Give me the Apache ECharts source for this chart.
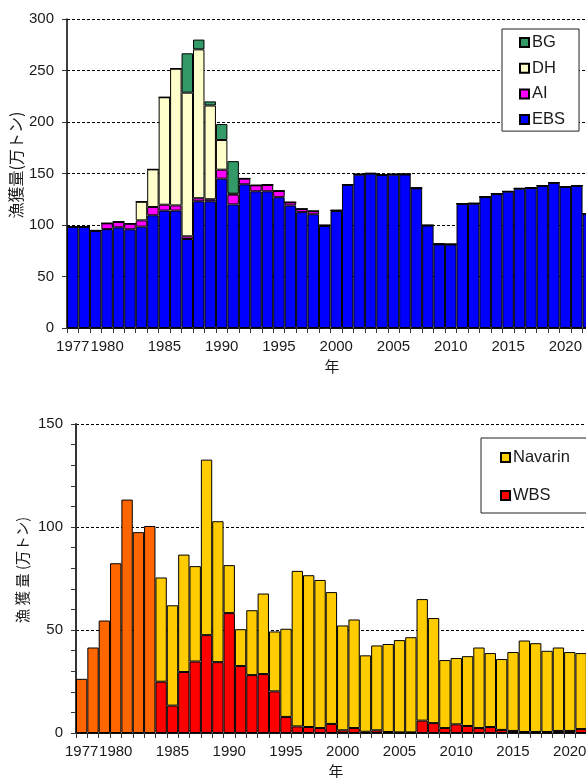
<!DOCTYPE html>
<html lang="ja">
<head>
    <meta charset="UTF-8">
    <title>漁獲量</title>
    <script src="https://cdn.jsdelivr.net/npm/echarts@6/dist/echarts.min.js"></script>
    <style>
        html,body{
            margin:0;
            padding:0;
            background:#fff;
            overflow:hidden;
        }
        #box{
            width:586px;
            height:778px;
        }
    </style>
</head>
<body>
<div id="box"></div>
<script>
    var yearsTop = [];
    for(var y=1977; y<=2022; y++){ yearsTop.push(String(y)); }
    var yearsBottom = yearsTop.slice(0,45);
    var shownYears = ['1977','1980','1985','1990','1995','2000','2005','2010','2015','2020'];

    // 上のグラフ(積み上げ)
    var ebs = [98.2,98,94.2,96,97.7,95.8,98.4,109.4,114,114,86.4,123,123,145,120,139.5,132.7,132.7,127,119,
        112.5,110.4,99,113.6,139,148.9,149.8,148.5,148.9,149,135.6,99.4,81.2,81,120.4,120.7,127,130,132.4,135.3,136,138,141,137,138,110.7];
    var ai = [0.3,0.3,0.5,5.6,5.3,5.5,6.1,8.1,5.7,5,2.6,3,2,8.7,9.5,5.5,5.8,6.3,6,3,
        3,3,0.7,0.6,0.3,0.3,0.3,0.3,0.3,0.3,0.3,0.3,0.3,0.3,0.3,0.3,0.3,0.3,0.2,0.2,0.2,0.2,0.2,0.2,0.2,0.2];
    var dh = [0,0,0,0,0,0,18.1,36.5,104.3,132.8,139.5,144.5,91,28.8,0.9,0.2,0,0,0,0,
        0,0,0,0,0,0,0,0,0,0,0,0,0,0,0,0,0,0,0,0,0,0,0,0,0,0];
    var bg = [0,0,0,0,0,0,0,0,0,0,38.2,9.5,4,15.5,31.6,0,0,0,0,0,
        0,0,0,0,0,0,0,0,0,0,0,0,0,0,0,0,0,0,0,0,0,0,0,0,0,0];

    // 下のグラフ 1977-1983は海域の内訳なし
    var undivided = [26.3,41.5,54.6,82.4,113.3,97.5,100.5];
    var wbs = [24.9,13.3,29.6,34.7,47.5,34.4,58.2,32.5,28.1,28.6,20.2,7.8,3.2,2.9,2.4,4.4,1.3,2.4,0.6,1.3,
        0.5,0.3,0.3,6,4.8,2.4,4.2,3.4,2.4,2.9,1.5,1,0.5,0.5,0.5,1,1,1.9];
    var navarin = [50.6,48.7,57,46.3,85.2,68.4,23.3,17.9,31.5,39.1,29.1,42.8,75.5,73.7,71.9,64,50.9,52.7,37.1,41.2,
        42.7,44.8,46.2,59,51,33,32.2,33.9,39.1,35.9,34.4,38.3,44.4,43.1,39.4,40.5,38.3,36.9];

    var FONT = '"Liberation Sans", Arial, sans-serif';
    var CJK = '"Noto Sans CJK JP", sans-serif';
    var TXT = '#1a1a1a';

    function fillBlank(arr){
        // 1977-1983はnull
        var res = [];
        for(var i=0; i<7; i++){ res.push(null); }
        return res.concat(arr);
    }
    function xAxis(idx,data){
        return {
            type:'category',
            gridIndex:idx,
            data:data,
            boundaryGap:true,
            axisLine:{show:true,lineStyle:{color:'#111',width:1}},
            axisTick:{show:true,interval:0,length:5,alignWithLabel:false,lineStyle:{color:'#333',width:1}},
            axisLabel:{
                interval:function(i,v){ return shownYears.indexOf(v)>=0; },
                color:TXT,fontFamily:FONT,fontSize:15,margin:11,hideOverlap:false
            },
            splitLine:{show:false}
        };
    }
    function yAxis(idx,max){
        return {
            type:'value',
            gridIndex:idx,
            min:0,
            max:max,
            interval:50,
            axisLine:{show:true,lineStyle:{color:idx==0?'#000':'#333',width:idx==0?1.5:2}},
            axisTick:{show:true,length:5,lineStyle:{color:'#333',width:1}},
            minorTick:{show:idx==1,splitNumber:5,length:5,lineStyle:{color:'#333',width:1}},
            axisLabel:{color:TXT,fontFamily:FONT,fontSize:15,margin:13},
            splitLine:{show:true,lineStyle:{color:'#000',width:1,type:[3,2]}}
        };
    }
    function bar(name,data,color,idx,stack){
        return {
            name:name,
            type:'bar',
            stack:stack,
            xAxisIndex:idx,
            yAxisIndex:idx,
            data:data,
            barWidth:'100%',
            barGap:'0%',
            animation:false,
            itemStyle:{color:color,borderColor:'#000',borderWidth:1}
        };
    }
    function legendStyle(){
        return {
            orient:'vertical',
            icon:'rect',
            itemWidth:9,
            itemHeight:9,
            backgroundColor:'#fff',
            borderColor:'#222',
            borderWidth:1,
            textStyle:{color:TXT,fontFamily:FONT,fontSize:16.5,padding:[0,0,0,-2]},
            selectedMode:false
        };
    }

    var legendTop = legendStyle();
    legendTop.data = ['BG','DH','AI','EBS'];
    legendTop.left = 502;
    legendTop.top = 29;
    legendTop.itemGap = 8.7;
    legendTop.padding = [5,14,3,17];

    var legendBottom = legendStyle();
    legendBottom.data = ['Navarin','WBS'];
    legendBottom.left = 481;
    legendBottom.top = 438;
    legendBottom.itemGap = 21;
    legendBottom.padding = [11,40,9,19];

    var MyChart = echarts.init(document.getElementById('box'),null,{renderer:'canvas'});
    var option = {
        backgroundColor:'#fff',
        animation:false,
        textStyle:{fontFamily:FONT},
        grid:[
            {left:67,top:19,width:527,height:309,containLabel:false,outerBoundsMode:'none'},
            {left:76,top:424,width:510.8,height:309,containLabel:false,outerBoundsMode:'none'}
        ],
        xAxis:[xAxis(0,yearsTop),xAxis(1,yearsBottom)],
        yAxis:[yAxis(0,300),yAxis(1,150)],
        legend:[legendTop,legendBottom],
        graphic:[
            {type:'text',x:16,y:165,rotation:Math.PI/2,silent:true,
                style:{text:'漁獲量(万トン)',fill:TXT,font:'16px '+CJK,textAlign:'center',textVerticalAlign:'middle'}},
            {type:'text',x:332,y:366,silent:true,
                style:{text:'年',fill:TXT,font:'15px '+CJK,textAlign:'center',textVerticalAlign:'middle'}},
            {type:'text',x:22,y:570,rotation:Math.PI/2,silent:true,
                style:{text:'漁 獲 量 (万トン)',fill:TXT,font:'14.5px '+CJK,textAlign:'center',textVerticalAlign:'middle'}},
            {type:'text',x:336,y:771,silent:true,
                style:{text:'年',fill:TXT,font:'15px '+CJK,textAlign:'center',textVerticalAlign:'middle'}}
        ],
        series:[
            bar('EBS',ebs,'#0000FF',0,'top'),
            bar('AI',ai,'#FF00FF',0,'top'),
            bar('DH',dh,'#FFFFCC',0,'top'),
            bar('BG',bg,'#339966',0,'top'),
            bar('total',undivided,'#FF6600',1,'bottom'),
            bar('WBS',fillBlank(wbs),'#FF0000',1,'bottom'),
            bar('Navarin',fillBlank(navarin),'#FFCC00',1,'bottom')
        ]
    };
    MyChart.setOption(option,true);
</script>
</body>
</html>
